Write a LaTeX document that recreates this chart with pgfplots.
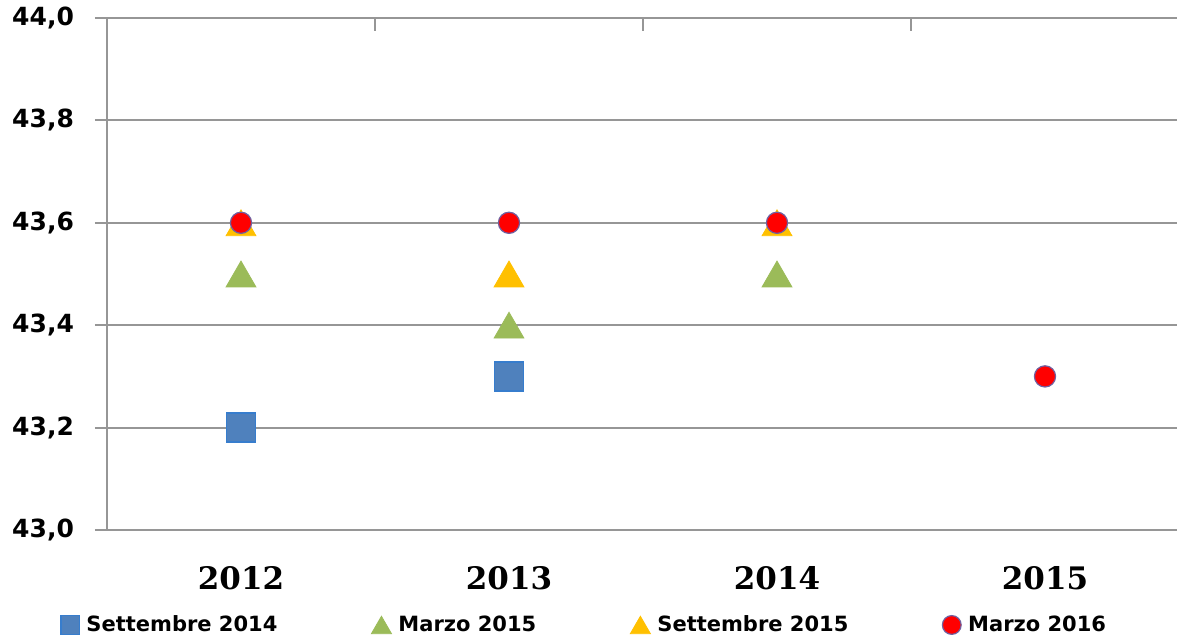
\documentclass[border=0pt]{standalone}
\usepackage{fontspec}
\setmainfont{DejaVu Sans}
\newfontfamily\yearfont{DejaVu Serif}
\usepackage{pgfplots}
\pgfplotsset{compat=1.18}
\definecolor{gridc}{RGB}{150,150,150}
\definecolor{sqfill}{RGB}{79,129,189}
\definecolor{sqedge}{RGB}{55,125,205}
\definecolor{grn}{RGB}{155,187,89}
\definecolor{yel}{RGB}{255,192,0}
\definecolor{redc}{RGB}{255,0,0}
\definecolor{redge}{RGB}{112,96,160}
\begin{document}
\begin{tikzpicture}
\begin{axis}[
  name=ax,
  scale only axis, width=536pt, height=256pt,
  xmin=-0.5, xmax=3.5, ymin=43, ymax=44,
  xtick={0,1,2,3}, xticklabels={2012,2013,2014,2015},
  ytick={43,43.2,43.4,43.6,43.8,44},
  axis lines*=left,
  axis line style={gridc, line width=1pt},
  ymajorgrids, grid style={gridc, line width=1pt},
  tick align=outside, major tick length=6pt,
  xtick style={draw=none},
  ytick style={gridc, line width=1pt},
  /pgf/number format/fixed,
  /pgf/number format/fixed zerofill,
  /pgf/number format/precision=1,
  /pgf/number format/use comma,
  /pgf/number format/assume math mode=true,
  yticklabel style={font=\fontsize{12.5}{14}\selectfont\bfseries, xshift=-7pt},
  xticklabel style={font=\fontsize{15.5}{18}\selectfont\yearfont\bfseries, yshift=-8.5pt},
  legend style={at={(axis description cs:0.4464,-0.1855)}, anchor=center, draw=none, fill=none,
    legend columns=4, font=\fontsize{10.5}{12}\selectfont\bfseries,
    /tikz/every even column/.append style={column sep=45pt},
    /tikz/every odd column/.append style={column sep=1.5pt}},
  legend cell align=left,
  legend image code/.code={\draw[#1] plot coordinates {(0pt,0pt)};},
]
\addlegendimage{mark=square*, mark size=4.6pt, fill=sqfill, draw=sqedge, line width=0.6pt}
\addlegendentry{Settembre 2014}
\addlegendimage{mark=triangle*, mark size=5.8pt, fill=grn, draw=grn, mark options={yshift=-1.45pt}}
\addlegendentry{Marzo 2015}
\addlegendimage{mark=triangle*, mark size=5.8pt, fill=yel, draw=yel, mark options={yshift=-1.45pt}}
\addlegendentry{Settembre 2015}
\addlegendimage{mark=*, mark size=4.7pt, fill=redc, draw=redge, line width=0.6pt}
\addlegendentry{Marzo 2016}

\addplot[only marks, mark=square*, mark size=7.2pt, mark options={fill=sqfill, draw=sqedge, line width=0.8pt}, forget plot]
  coordinates {(0,43.2) (1,43.3)};
\addplot[only marks, mark=triangle*, mark size=8.6pt, mark options={fill=grn, draw=grn, yshift=-2.15pt}, forget plot]
  coordinates {(0,43.5) (1,43.4) (2,43.5)};
\addplot[only marks, mark=triangle*, mark size=8.6pt, mark options={fill=yel, draw=yel, yshift=-2.15pt}, forget plot]
  coordinates {(0,43.6) (1,43.5) (2,43.6)};
\addplot[only marks, mark=*, mark size=5.3pt, mark options={fill=redc, draw=redge, line width=0.6pt}, forget plot]
  coordinates {(0,43.6) (1,43.6) (2,43.6) (3,43.3)};

\draw[gridc, line width=1pt] (axis cs:0.5,44) -- ([yshift=-6.5pt]axis cs:0.5,44);
\draw[gridc, line width=1pt] (axis cs:1.5,44) -- ([yshift=-6.5pt]axis cs:1.5,44);
\draw[gridc, line width=1pt] (axis cs:2.5,44) -- ([yshift=-6.5pt]axis cs:2.5,44);
\end{axis}
\pgfresetboundingbox
\path[use as bounding box] ([shift={(-53.5pt,-55.5pt)}]ax.south west) rectangle ([shift={(535pt,9pt)}]ax.north west);
\end{tikzpicture}
\end{document}
